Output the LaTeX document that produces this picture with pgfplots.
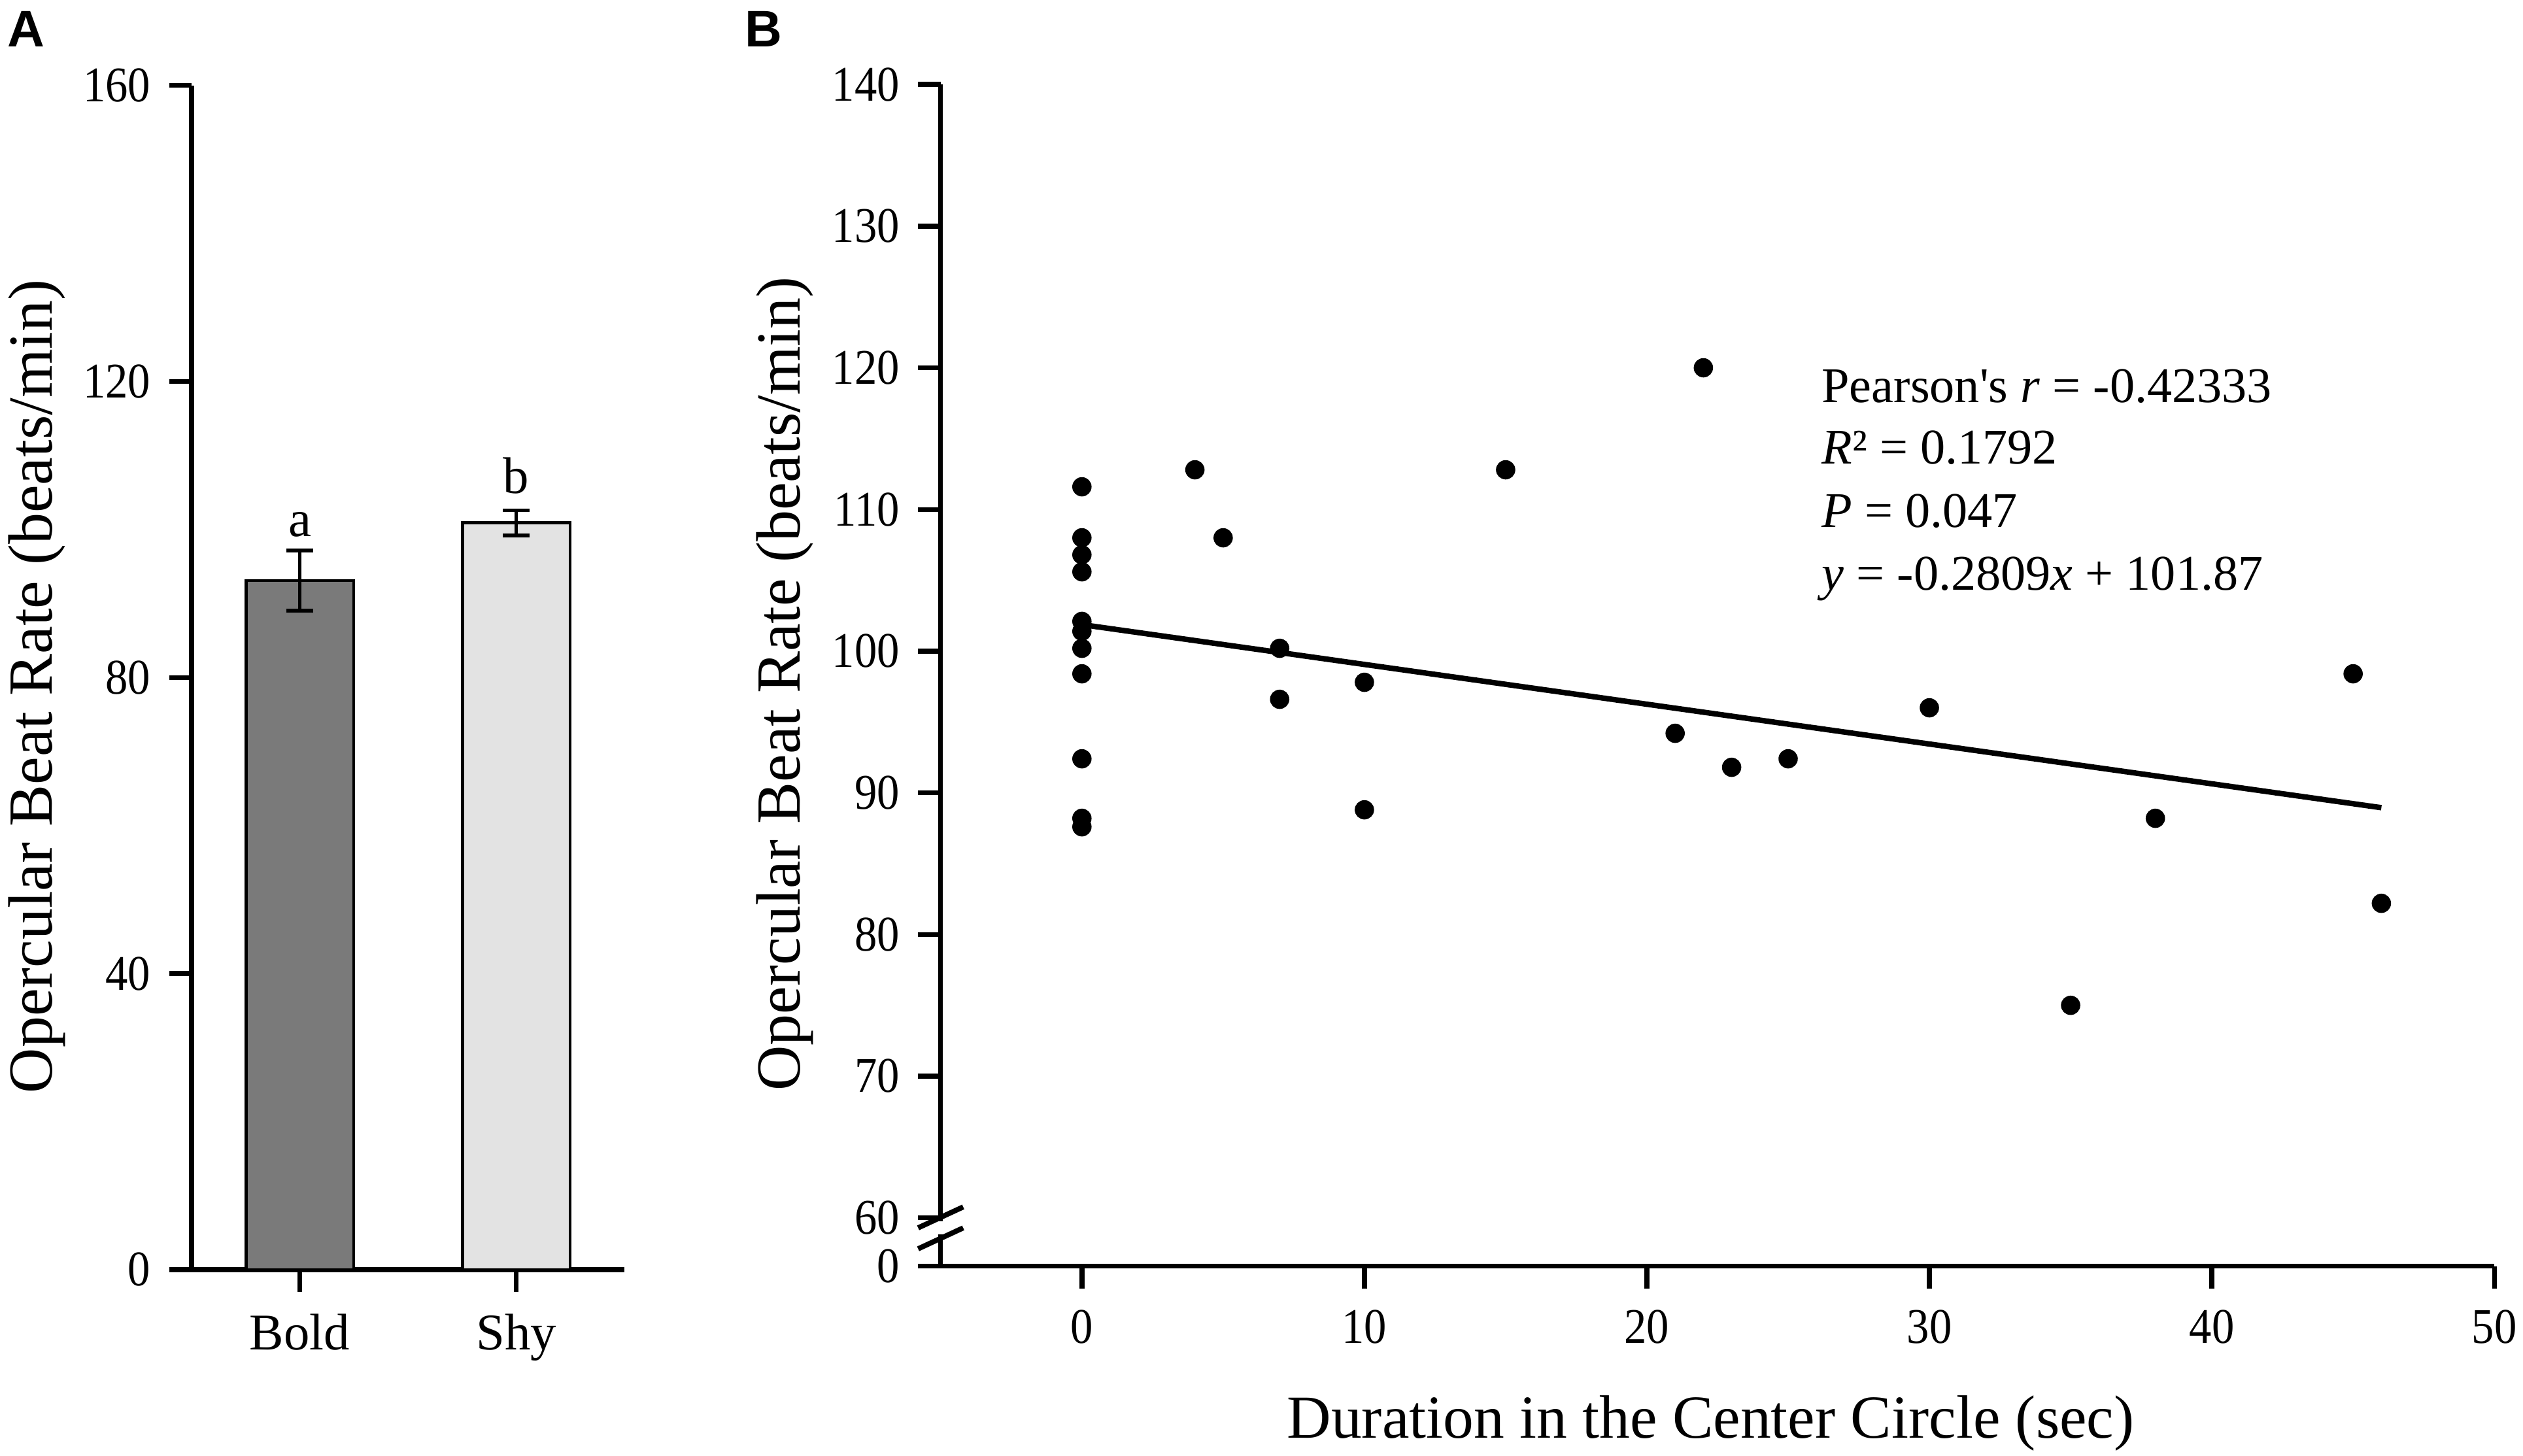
\documentclass[border=0pt]{standalone}
\usepackage{fontspec}
\setmainfont{Liberation Serif}
\newfontfamily\tickfont{Liberation Serif}[FakeStretch=0.9]
\newfontfamily\panelfont{Liberation Sans}
\usepackage{pgfplots}
\usepackage{pgfplotstable}
\pgfplotsset{compat=1.18}
\definecolor{boldgray}{RGB}{122,122,122}
\definecolor{shygray}{RGB}{227,227,227}
\newcommand{\fs}[1]{\fontsize{#1}{#1}\selectfont}

\pgfplotstableread{
x y
0 111.6
0 108.0
0 106.8
0 105.6
0 102.1
0 101.4
0 100.2
0 98.4
0 92.4
0 88.2
0 87.6
4 112.8
5 108.0
7 100.2
7 96.6
10 97.8
10 88.8
15 112.8
21 94.2
22 120.0
23 91.8
25 92.4
30 96.0
35 75.0
38 88.2
45 98.4
46 82.2
}\scatterdata

\pgfplotsset{
 common/.style={
  scale only axis,
  axis x line*=bottom, axis y line*=left,
  axis line style={line width=1.5pt, black},
  tick align=outside,
  major tick length=7pt,
  every tick/.style={black, line width=1.5pt},
  tick label style={font=\tickfont\fs{15.5}, inner sep=0pt},
  /pgf/number format/assume math mode=true,
  xticklabel style={anchor=north, yshift=-6.5pt},
  yticklabel style={anchor=east, xshift=-5.6pt},
  label style={font=\fs{19.5}},
  clip=false,
 }
}

\begin{document}
\begin{tikzpicture}
\useasboundingbox (0,0) rectangle (784pt,452.24pt);
\node[anchor=base west, inner sep=0pt, font=\panelfont\bfseries\fs{16}] at (2.2pt,437.8pt) {A};
\node[anchor=base west, inner sep=0pt, font=\panelfont\bfseries\fs{16}] at (231.2pt,437.8pt) {B};

\begin{axis}[common, at={(59.53pt,57.70pt)}, anchor=south west,
  width=134.5pt, height=368pt,
  xmin=-0.5, xmax=1.5, ymin=0, ymax=160,
  xtick={0,1}, xticklabels={Bold,Shy},
  xticklabel style={font=\fs{16}},
  ytick={0,40,80,120,160},
  ylabel={Opercular Beat Rate (beats/min)},
  ylabel style={at={(axis description cs:-0.358,0.4925)}, anchor=center},
  ybar, bar width=33.5pt, bar shift=0pt]
\addplot[fill=boldgray, draw=black, line width=1pt,
  error bars/.cd, y dir=both, y explicit,
  error bar style={line width=1.2pt, black},
  error mark options={line width=1.2pt, mark size=4.1pt, black, rotate=90}]
  coordinates {(0,93.1) +- (0,4.1)};
\addplot[fill=shygray, draw=black, line width=1pt,
  error bars/.cd, y dir=both, y explicit,
  error bar style={line width=1.2pt, black},
  error mark options={line width=1.2pt, mark size=4.1pt, black, rotate=90}]
  coordinates {(1,100.9) +- (0,1.7)};
\node[font=\fs{16}, anchor=base, inner sep=0pt] at (axis cs:0,99.1) {a};
\node[font=\fs{16}, anchor=base, inner sep=0pt] at (axis cs:1,104.9) {b};
\end{axis}

\begin{axis}[common, at={(292.3pt,58.8pt)}, anchor=south west,
  width=482.8pt, height=367.2pt,
  xmin=-5, xmax=50, ymin=56.59, ymax=140,
  xtick={0,10,20,30,40,50},
  ytick={56.59,60,70,80,90,100,110,120,130,140},
  yticklabels={0,60,70,80,90,100,110,120,130,140},
  xlabel={Duration in the Center Circle (sec)},
  xlabel style={font=\fs{19}, at={(axis description cs:0.4956,0)}, anchor=base, yshift=-53.5pt},
  ylabel={Opercular Beat Rate (beats/min)},
  ylabel style={at={(axis description cs:-0.1005,0.4927)}, anchor=center}]
\addplot[only marks, mark=*, mark size=2.8pt, black] table[x=x, y=y] {\scatterdata};
\addplot[black, line width=1.7pt] coordinates {(0,101.87) (46,88.95)};
\fill[white] ([xshift=-2.5pt]axis cs:-5,58.85) rectangle ([xshift=2.5pt]axis cs:-5,59.75);
\draw[line width=1.6pt] ([xshift=-7pt,yshift=-3.25pt]axis cs:-5,60.03) -- ([xshift=7pt,yshift=3.25pt]axis cs:-5,60.03);
\draw[line width=1.6pt] ([xshift=-7pt,yshift=-3.25pt]axis cs:-5,58.55) -- ([xshift=7pt,yshift=3.25pt]axis cs:-5,58.55);
\node[font=\fs{15.5}, anchor=base west, inner sep=0pt] at (axis cs:26.17,117.57) {Pearson\textquotesingle s \textit{r} = -0.42333};
\node[font=\fs{15.5}, anchor=base west, inner sep=0pt] at (axis cs:26.17,113.2) {\textit{R}² = 0.1792};
\node[font=\fs{15.5}, anchor=base west, inner sep=0pt] at (axis cs:26.17,108.76) {\textit{P} = 0.047};
\node[font=\fs{15.5}, anchor=base west, inner sep=0pt] at (axis cs:26.17,104.29) {\textit{y} = -0.2809\textit{x} + 101.87};
\end{axis}
\end{tikzpicture}
\end{document}
